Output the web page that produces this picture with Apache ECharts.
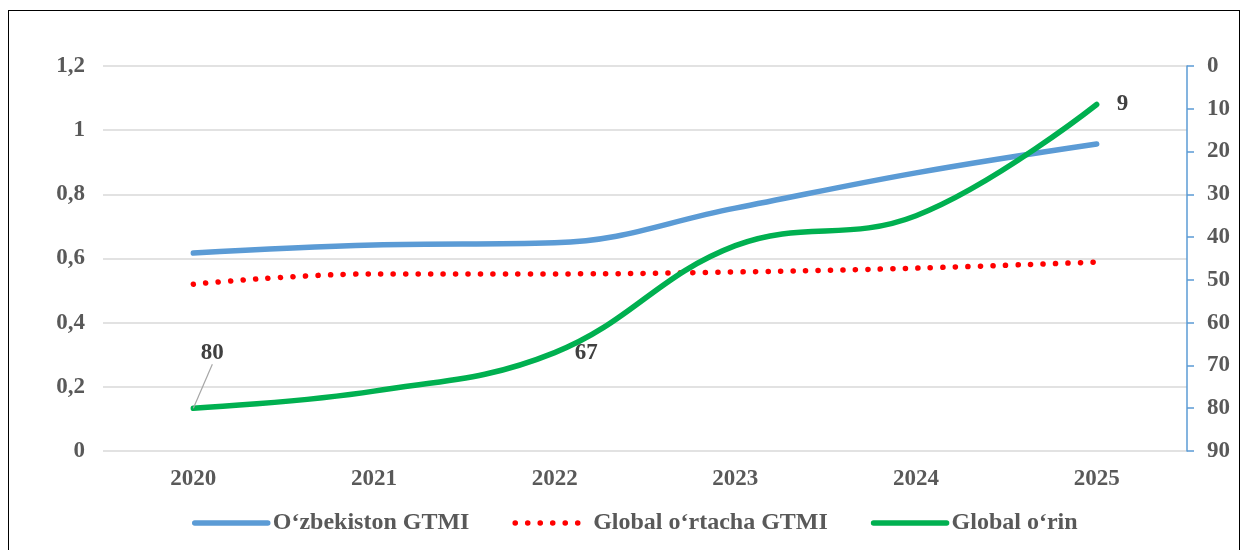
<!DOCTYPE html>
<html>
<head>
<meta charset="utf-8">
<script src="https://cdn.jsdelivr.net/npm/echarts@6/dist/echarts.min.js"></script>
<style>
  html, body { margin: 0; padding: 0; background: #fff; }
  #wrap { position: relative; width: 1244px; height: 550px; overflow: hidden; }
  #frame { position: absolute; left: 8px; top: 10px; width: 1232px; height: 560px; border: 1.5px solid #000; box-sizing: border-box; }
  #chart { position: absolute; left: 0; top: 0; width: 1244px; height: 550px; }
</style>
</head>
<body>
<div id="wrap">
  <div id="frame"></div>
  <div id="chart"></div>
</div>
<script>
// yillar
var years = ['2020', '2021', '2022', '2023', '2024', '2025'];
// O'zbekiston GTMI qiymatlari
var uzbGtmi = [0.617, 0.642, 0.649, 0.757, 0.867, 0.957];
// global o'rtacha GTMI
var globalGtmi = [0.52, 0.552, 0.552, 0.558, 0.57, 0.589];
// global o'rin (o'ng o'q, teskari)
var globalRank = [80, 76, 67, 42, 35, 9];
// qaysi nuqtalarda yorliq ko'rsatiladi
var rankLabelIdx = [0, 2, 5];

var seriesNames = ['O\u2018zbekiston GTMI', 'Global o\u2018rtacha GTMI', 'Global o\u2018rin'];

var font = 'Liberation Serif, Times New Roman, serif';

var rankData = globalRank.map(function (v, i) {
  var item = { value: v };
  if (rankLabelIdx.indexOf(i) >= 0) {
    item.label = { show: true, position: i === 0 ? 'top' : 'right' };
    // faqat birinchi yorliqda chiziq bor
    item.labelLine = { show: i === 0 };
  }
  return item;
});

var chart = echarts.init(document.getElementById('chart'));
chart.setOption({
  animation: false,
  textStyle: { fontFamily: font },
  grid: { left: 103, right: 57, top: 66, bottom: 99 },
  legend: {
    data: seriesNames,
    left: 187,
    top: 506,
    itemWidth: 73,
    itemHeight: 14,
    itemGap: 43,
    itemStyle: { opacity: 0 },
    lineStyle: { width: 5.5, cap: 'round' },
    textStyle: { fontFamily: font, fontSize: 24, fontWeight: 'bold', color: '#595959' }
  },
  xAxis: {
    type: 'category',
    data: years,
    axisLine: { show: false },
    axisTick: { show: false },
    axisLabel: { margin: 17, fontFamily: font, fontSize: 23, fontWeight: 'bold', color: '#595959' }
  },
  yAxis: [
    {
      type: 'value',
      min: 0,
      max: 1.2,
      interval: 0.2,
      axisLine: { show: false },
      axisTick: { show: false },
      splitLine: { lineStyle: { color: '#d9d9d9', width: 1.5 } },
      axisLabel: {
        margin: 18,
        fontFamily: font, fontSize: 23, fontWeight: 'bold', color: '#595959',
        formatter: function (v) { return String(Math.round(v * 10) / 10).replace('.', ','); }
      }
    },
    {
      type: 'value',
      min: 0,
      max: 90,
      interval: 10,
      inverse: true,
      position: 'right',
      splitLine: { show: false },
      axisLine: { show: true, lineStyle: { color: '#5b9bd5', width: 1.5 } },
      axisTick: { show: true, inside: false, length: 7, lineStyle: { color: '#5b9bd5', width: 1.5 } },
      axisLabel: { margin: 20, fontFamily: font, fontSize: 23, fontWeight: 'bold', color: '#595959' }
    }
  ],
  series: [
    {
      name: seriesNames[0],
      type: 'line',
      data: uzbGtmi,
      smooth: 0.4,
      symbol: 'none',
      lineStyle: { color: '#5b9bd5', width: 5.5, cap: 'round' },
      itemStyle: { color: '#5b9bd5' }
    },
    {
      name: seriesNames[1],
      type: 'line',
      data: globalGtmi,
      smooth: 0.4,
      symbol: 'none',
      lineStyle: { color: '#ff0000', width: 5.5, type: [0.1, 12.4], cap: 'round' },
      itemStyle: { color: '#ff0000' }
    },
    {
      name: seriesNames[2],
      type: 'line',
      yAxisIndex: 1,
      data: rankData,
      smooth: 0.4,
      symbol: 'circle',
      symbolSize: 0.01,
      showSymbol: true,
      lineStyle: { color: '#00b050', width: 5.5, cap: 'round' },
      itemStyle: { color: '#00b050' },
      label: {
        distance: 20,
        fontFamily: font, fontSize: 23, fontWeight: 'bold', color: '#404040'
      },
      labelLine: { show: false, lineStyle: { color: '#a6a6a6', width: 1.2 } },
      labelLayout: function (params) {
        if (params.dataIndex === 0) {
          return { dx: 19, dy: -24 };
        }
        return {};
      }
    }
  ]
});
</script>
</body>
</html>
